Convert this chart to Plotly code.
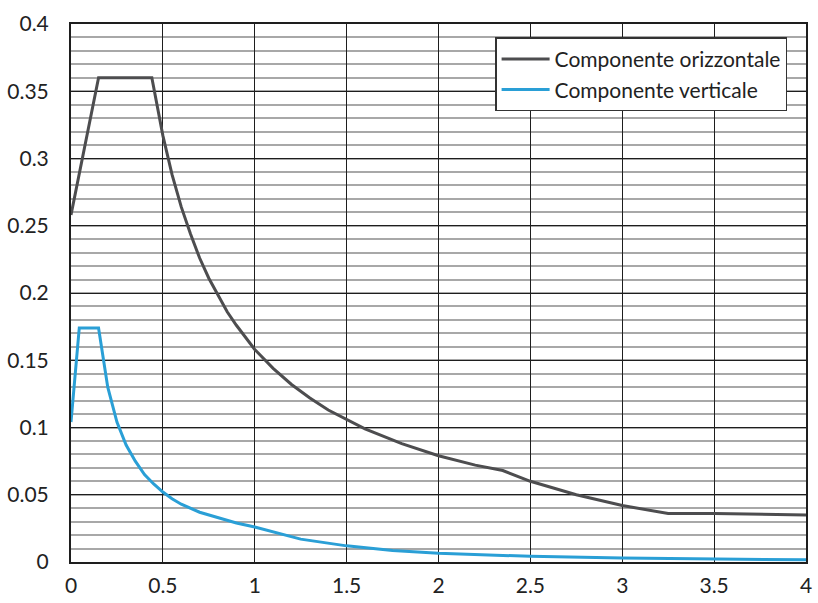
import plotly.graph_objects as go

# Period T [s]
t_oriz = [0, 0.15, 0.44, 0.5, 0.55, 0.6, 0.65, 0.7, 0.75, 0.8, 0.85, 0.9, 0.95,
          1.0, 1.1, 1.2, 1.3, 1.4, 1.6, 1.8, 2.0, 2.2, 2.35, 2.5, 2.75, 3.0,
          3.25, 3.5, 4.0]
s_oriz = [0.258, 0.36, 0.36, 0.317, 0.288, 0.264, 0.244, 0.226, 0.211, 0.198,
          0.186, 0.176, 0.167, 0.158, 0.144, 0.132, 0.122, 0.113, 0.099, 0.088,
          0.079, 0.072, 0.068, 0.060, 0.050, 0.042, 0.036, 0.036, 0.035]

t_vert = [0, 0.045, 0.15, 0.2, 0.25, 0.3, 0.35, 0.4, 0.45, 0.5, 0.55, 0.6, 0.7,
          0.8, 0.9, 1.0, 1.25, 1.5, 1.75, 2.0, 2.5, 3.0, 3.5, 4.0]
s_vert = [0.104, 0.174, 0.174, 0.13, 0.104, 0.087, 0.075, 0.065, 0.058, 0.052,
          0.047, 0.043, 0.037, 0.033, 0.029, 0.026, 0.017, 0.012, 0.0085,
          0.0065, 0.0042, 0.0029, 0.0021, 0.0016]

x_ticks = [0, 0.5, 1, 1.5, 2, 2.5, 3, 3.5, 4]
x_labels = ["0", "0.5", "1", "1.5", "2", "2.5", "3", "3.5", "4"]
y_ticks = [0, 0.05, 0.1, 0.15, 0.2, 0.25, 0.3, 0.35, 0.4]
y_labels = ["0", "0.05", "0.1", "0.15", "0.2", "0.25", "0.3", "0.35", "0.4"]

FONT = "Lato, 'Noto Sans', sans-serif"

fig = go.Figure()
fig.add_trace(go.Scatter(x=t_oriz, y=s_oriz, mode="lines",
                         name="Componente orizzontale",
                         line=dict(color="#4d4d4f", width=3)))
fig.add_trace(go.Scatter(x=t_vert, y=s_vert, mode="lines",
                         name="Componente verticale",
                         line=dict(color="#2a9fd6", width=3)))

fig.update_layout(
    width=818, height=603,
    margin=dict(l=71, r=6, t=24, b=38),
    paper_bgcolor="white", plot_bgcolor="white",
    font=dict(family=FONT, size=21, color="#222"),
    showlegend=True,
    legend=dict(x=0.577, y=0.975, xanchor="left", yanchor="top",
                bgcolor="white", bordercolor="#333", borderwidth=1.5,
                font=dict(family=FONT, size=21, color="#222"),
                tracegroupgap=0, itemwidth=48),
)
fig.update_xaxes(range=[0, 4], tickvals=x_ticks, ticktext=x_labels,
                 showgrid=True, gridcolor="#1e1e1e", gridwidth=1.3,
                 showline=True, linecolor="#1e1e1e", linewidth=2, mirror=True,
                 zeroline=False, ticks="", ticklabelstandoff=4)
fig.update_yaxes(range=[0, 0.4], tickvals=y_ticks, ticktext=y_labels,
                 showgrid=True, gridcolor="#1e1e1e", gridwidth=1.3,
                 minor=dict(dtick=0.01, showgrid=True, gridcolor="#a8a8a8",
                            gridwidth=1.5),
                 showline=True, linecolor="#1e1e1e", linewidth=2, mirror=True,
                 zeroline=False, ticks="", ticklabelstandoff=16)

fig.write_html("out.html")
